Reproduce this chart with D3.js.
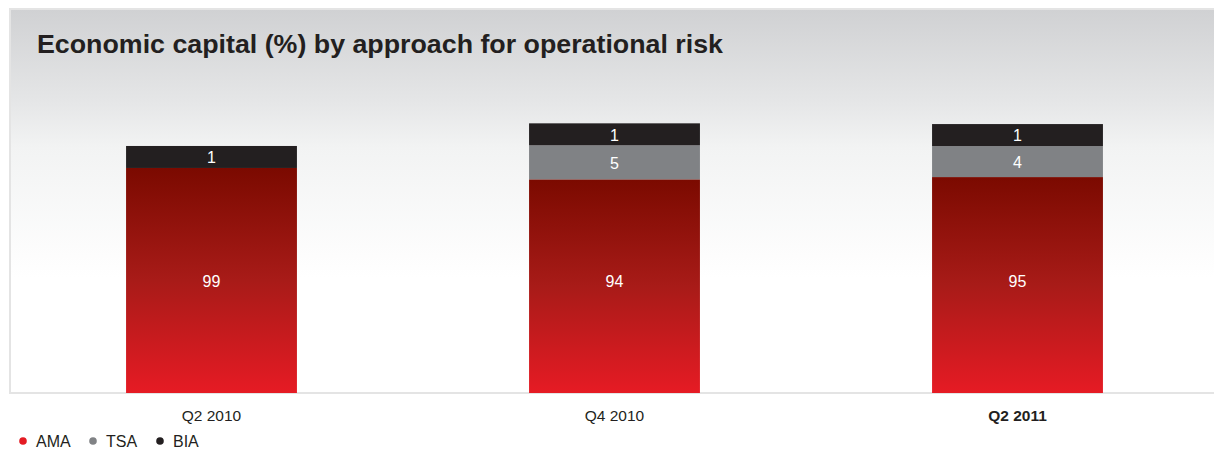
<!DOCTYPE html>
<html>
<head>
<meta charset="utf-8">
<script src="https://cdn.jsdelivr.net/npm/d3@7"></script>
<style>
  html, body { margin: 0; padding: 0; background: #ffffff; }
  svg { display: block; font-family: "Liberation Sans", Arial, sans-serif; }
</style>
</head>
<body>
<svg id="chart" width="1214" height="450"></svg>
<script>
// Economic capital share (%) by approach, per reporting period
const periods = ["Q2 2010", "Q4 2010", "Q2 2011"];
const ama = [99, 94, 95];
const tsa = [0, 5, 4];
const bia = [1, 1, 1];
const seriesNames = ["AMA", "TSA", "BIA"];
const highlightPeriod = "Q2 2011";

const W = 1214, H = 450;
const panel = { x: 10, y: 9, bottom: 393 };
const colors = { AMA: "#e41b23", TSA: "#808285", BIA: "#231f20" };

const svg = d3.select("#chart");
const defs = svg.append("defs");

// panel background: grey at the top fading into white
const bg = defs.append("linearGradient")
  .attr("id", "panelFill").attr("x1", 0).attr("y1", 0).attr("x2", 0).attr("y2", 1);
bg.append("stop").attr("offset", "0%").attr("stop-color", "#d0d1d3");
bg.append("stop").attr("offset", "24%").attr("stop-color", "#e5e6e7");
bg.append("stop").attr("offset", "36%").attr("stop-color", "#f2f3f3");
bg.append("stop").attr("offset", "70%").attr("stop-color", "#ffffff");
bg.append("stop").attr("offset", "100%").attr("stop-color", "#ffffff");

// AMA bars: dark red at the top, bright red at the bottom
const red = defs.append("linearGradient")
  .attr("id", "amaFill").attr("x1", 0).attr("y1", 0).attr("x2", 0).attr("y2", 1);
red.append("stop").attr("offset", "0%").attr("stop-color", "#7b0a00");
red.append("stop").attr("offset", "50%").attr("stop-color", "#a81b18");
red.append("stop").attr("offset", "100%").attr("stop-color", "#e61b24");

svg.append("rect")
  .attr("x", panel.x).attr("y", panel.y)
  .attr("width", W + 10 - panel.x).attr("height", panel.bottom - panel.y)
  .attr("fill", "url(#panelFill)")
  .attr("stroke", "#e4e4e4").attr("stroke-width", 2);

svg.append("text")
  .attr("x", 37).attr("y", 53)
  .attr("font-size", 25).attr("font-weight", "bold")
  .attr("fill", "#231f20")
  .attr("textLength", 686).attr("lengthAdjust", "spacingAndGlyphs")
  .text("Economic capital (%) by approach for operational risk");

// scales
const x = d3.scaleBand().domain(periods).range([10, 1219])
  .paddingInner(0.576).paddingOuter(0.288);
// main segment height
const hMain = d3.scaleLinear().domain([0, 100]).range([0, 227.3]);
// small segments are widened into a readable band
const hSmall = d3.scaleLinear().domain([0, 5]).range([19, 34]);

const rows = periods.map((p, i) => {
  const segs = [];
  let y = panel.bottom;
  const parts = [["AMA", ama[i]], ["TSA", tsa[i]], ["BIA", bia[i]]];
  parts.forEach(([name, v], j) => {
    if (!v) return;
    const h = j === 0 ? hMain(v) : hSmall(v);
    segs.push({ period: p, name, value: v, y0: y - h, h, main: j === 0 });
    y -= h;
  });
  return segs;
}).flat();

const g = svg.append("g");
g.selectAll("rect.seg").data(rows).join("rect")
  .attr("class", "seg")
  .attr("x", d => x(d.period))
  .attr("width", x.bandwidth())
  .attr("y", d => d.y0)
  .attr("height", d => d.h)
  .attr("fill", d => d.name === "AMA" ? "url(#amaFill)" : colors[d.name]);

// main-segment labels sit on a common line at mid-height of the full column
g.selectAll("text.val").data(rows).join("text")
  .attr("class", "val")
  .attr("x", d => x(d.period) + x.bandwidth() / 2)
  .attr("y", d => d.main ? panel.bottom - hMain(100) / 2 : d.y0 + d.h / 2)
  .attr("dy", d => d.main ? "0.45em" : "0.4em")
  .attr("text-anchor", "middle")
  .attr("font-size", 16)
  .attr("fill", "#ffffff")
  .text(d => d.value);

// category axis
const axis = svg.append("g")
  .attr("transform", `translate(0,${panel.bottom})`)
  .call(d3.axisBottom(x).tickSize(0).tickPadding(17));
axis.select(".domain").remove();
axis.selectAll("text")
  .attr("font-family", "Liberation Sans, Arial, sans-serif")
  .attr("font-size", 15.5)
  .attr("fill", "#231f20")
  .attr("font-weight", d => d === highlightPeriod ? "bold" : "normal");

// legend
const legendX = [23, 93, 160];
const legend = svg.append("g").selectAll("g").data(seriesNames).join("g")
  .attr("transform", (d, i) => `translate(${legendX[i]},441)`);
legend.append("circle").attr("r", 3.8).attr("fill", d => colors[d]);
legend.append("text")
  .attr("x", 13).attr("dy", "0.36em")
  .attr("font-size", 16).attr("fill", "#231f20")
  .text(d => d);
</script>
</body>
</html>
